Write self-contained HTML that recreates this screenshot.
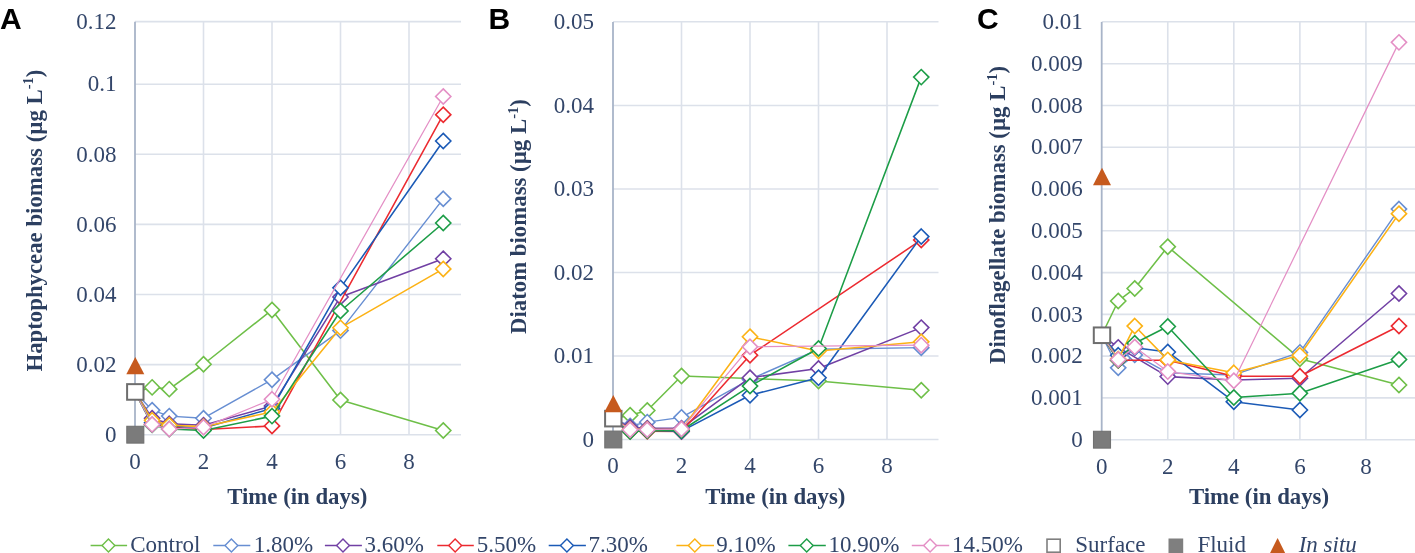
<!DOCTYPE html>
<html><head><meta charset="utf-8"><style>
html,body{margin:0;padding:0;background:#fff;}
body{width:1415px;height:553px;overflow:hidden;}
svg{display:block;will-change:transform;}
.t{font-family:"Liberation Serif",serif;font-size:23px;fill:#33466a;}
.b{font-family:"Liberation Serif",serif;font-size:22.8px;font-weight:bold;fill:#2c3f60;}
.L{font-family:"Liberation Sans",sans-serif;font-size:30px;font-weight:bold;fill:#000;}
</style></head><body>
<svg width="1415" height="553" viewBox="0 0 1415 553">
<line x1="135" y1="434.7" x2="461" y2="434.7" stroke="#dce1ea" stroke-width="1.6"/>
<line x1="135" y1="364.6" x2="461" y2="364.6" stroke="#dce1ea" stroke-width="1.6"/>
<line x1="135" y1="294.5" x2="461" y2="294.5" stroke="#dce1ea" stroke-width="1.6"/>
<line x1="135" y1="224.4" x2="461" y2="224.4" stroke="#dce1ea" stroke-width="1.6"/>
<line x1="135" y1="154.3" x2="461" y2="154.3" stroke="#dce1ea" stroke-width="1.6"/>
<line x1="135" y1="84.2" x2="461" y2="84.2" stroke="#dce1ea" stroke-width="1.6"/>
<line x1="135" y1="21.6" x2="461" y2="21.6" stroke="#dce1ea" stroke-width="1.6"/>
<line x1="203.5" y1="21.6" x2="203.5" y2="434.7" stroke="#dce1ea" stroke-width="1.6"/>
<line x1="272" y1="21.6" x2="272" y2="434.7" stroke="#dce1ea" stroke-width="1.6"/>
<line x1="340.5" y1="21.6" x2="340.5" y2="434.7" stroke="#dce1ea" stroke-width="1.6"/>
<line x1="409" y1="21.6" x2="409" y2="434.7" stroke="#dce1ea" stroke-width="1.6"/>
<line x1="135" y1="21.8" x2="135" y2="434.7" stroke="#a8b4c8" stroke-width="1.8"/>
<text x="116.5" y="441.9" text-anchor="end" class="t">0</text>
<text x="116.5" y="371.8" text-anchor="end" class="t">0.02</text>
<text x="116.5" y="301.7" text-anchor="end" class="t">0.04</text>
<text x="116.5" y="231.6" text-anchor="end" class="t">0.06</text>
<text x="116.5" y="161.5" text-anchor="end" class="t">0.08</text>
<text x="116.5" y="91.4" text-anchor="end" class="t">0.1</text>
<text x="116.5" y="28.8" text-anchor="end" class="t">0.12</text>
<text x="135" y="468.6" text-anchor="middle" class="t">0</text>
<text x="203.5" y="468.6" text-anchor="middle" class="t">2</text>
<text x="272" y="468.6" text-anchor="middle" class="t">4</text>
<text x="340.5" y="468.6" text-anchor="middle" class="t">6</text>
<text x="409" y="468.6" text-anchor="middle" class="t">8</text>
<text x="297.3" y="503.8" text-anchor="middle" class="b">Time (in days)</text>
<text transform="translate(41.7 220.6) rotate(-90)" text-anchor="middle" class="b">Haptophyceae biomass (µg L<tspan font-size="14.5" dy="-8.5">-1</tspan><tspan dy="8.5">)</tspan></text>
<text x="0" y="29" class="L">A</text>
<path d="M135 391.94 L152.12 387.38 L169.25 389.13 L203.5 364.25 L272 309.92 L340.5 400 L443.25 430.49" fill="none" stroke="#6ebf48" stroke-width="1.55" stroke-linejoin="round"/>
<path d="M152.12 379.78L159.72 387.38L152.12 394.98L144.53 387.38Z" fill="#fff" stroke="#6ebf48" stroke-width="1.6" stroke-linejoin="miter"/>
<path d="M169.25 381.53L176.85 389.13L169.25 396.74L161.65 389.13Z" fill="#fff" stroke="#6ebf48" stroke-width="1.6" stroke-linejoin="miter"/>
<path d="M203.5 356.65L211.1 364.25L203.5 371.85L195.9 364.25Z" fill="#fff" stroke="#6ebf48" stroke-width="1.6" stroke-linejoin="miter"/>
<path d="M272 302.32L279.6 309.92L272 317.52L264.4 309.92Z" fill="#fff" stroke="#6ebf48" stroke-width="1.6" stroke-linejoin="miter"/>
<path d="M340.5 392.4L348.1 400L340.5 407.6L332.9 400Z" fill="#fff" stroke="#6ebf48" stroke-width="1.6" stroke-linejoin="miter"/>
<path d="M443.25 422.89L450.85 430.49L443.25 438.09L435.65 430.49Z" fill="#fff" stroke="#6ebf48" stroke-width="1.6" stroke-linejoin="miter"/>
<path d="M135 391.94 L152.12 410.16 L169.25 416.12 L203.5 418.23 L272 379.67 L340.5 330.6 L443.25 198.81" fill="none" stroke="#678ed2" stroke-width="1.4" stroke-linejoin="round"/>
<path d="M152.12 402.56L159.72 410.16L152.12 417.76L144.53 410.16Z" fill="#fff" stroke="#678ed2" stroke-width="1.6" stroke-linejoin="miter"/>
<path d="M169.25 408.52L176.85 416.12L169.25 423.72L161.65 416.12Z" fill="#fff" stroke="#678ed2" stroke-width="1.6" stroke-linejoin="miter"/>
<path d="M203.5 410.63L211.1 418.23L203.5 425.83L195.9 418.23Z" fill="#fff" stroke="#678ed2" stroke-width="1.6" stroke-linejoin="miter"/>
<path d="M272 372.07L279.6 379.67L272 387.27L264.4 379.67Z" fill="#fff" stroke="#678ed2" stroke-width="1.6" stroke-linejoin="miter"/>
<path d="M340.5 323L348.1 330.6L340.5 338.2L332.9 330.6Z" fill="#fff" stroke="#678ed2" stroke-width="1.6" stroke-linejoin="miter"/>
<path d="M443.25 191.21L450.85 198.81L443.25 206.41L435.65 198.81Z" fill="#fff" stroke="#678ed2" stroke-width="1.6" stroke-linejoin="miter"/>
<path d="M135 391.94 L152.12 418.23 L169.25 423.83 L203.5 425.24 L272 405.96 L340.5 296.95 L443.25 258.75" fill="none" stroke="#7140a4" stroke-width="1.55" stroke-linejoin="round"/>
<path d="M152.12 410.63L159.72 418.23L152.12 425.83L144.53 418.23Z" fill="#fff" stroke="#7140a4" stroke-width="1.6" stroke-linejoin="miter"/>
<path d="M169.25 416.23L176.85 423.83L169.25 431.43L161.65 423.83Z" fill="#fff" stroke="#7140a4" stroke-width="1.6" stroke-linejoin="miter"/>
<path d="M203.5 417.64L211.1 425.24L203.5 432.84L195.9 425.24Z" fill="#fff" stroke="#7140a4" stroke-width="1.6" stroke-linejoin="miter"/>
<path d="M272 398.36L279.6 405.96L272 413.56L264.4 405.96Z" fill="#fff" stroke="#7140a4" stroke-width="1.6" stroke-linejoin="miter"/>
<path d="M340.5 289.35L348.1 296.95L340.5 304.55L332.9 296.95Z" fill="#fff" stroke="#7140a4" stroke-width="1.6" stroke-linejoin="miter"/>
<path d="M443.25 251.15L450.85 258.75L443.25 266.35L435.65 258.75Z" fill="#fff" stroke="#7140a4" stroke-width="1.6" stroke-linejoin="miter"/>
<path d="M135 391.94 L152.12 424.19 L169.25 426.99 L203.5 429.44 L272 425.94 L443.25 114.69" fill="none" stroke="#ec2a30" stroke-width="1.55" stroke-linejoin="round"/>
<path d="M152.12 416.58L159.72 424.19L152.12 431.79L144.53 424.19Z" fill="#fff" stroke="#ec2a30" stroke-width="1.6" stroke-linejoin="miter"/>
<path d="M169.25 419.39L176.85 426.99L169.25 434.59L161.65 426.99Z" fill="#fff" stroke="#ec2a30" stroke-width="1.6" stroke-linejoin="miter"/>
<path d="M203.5 421.84L211.1 429.44L203.5 437.04L195.9 429.44Z" fill="#fff" stroke="#ec2a30" stroke-width="1.6" stroke-linejoin="miter"/>
<path d="M272 418.34L279.6 425.94L272 433.54L264.4 425.94Z" fill="#fff" stroke="#ec2a30" stroke-width="1.6" stroke-linejoin="miter"/>
<path d="M443.25 107.09L450.85 114.69L443.25 122.29L435.65 114.69Z" fill="#fff" stroke="#ec2a30" stroke-width="1.6" stroke-linejoin="miter"/>
<path d="M135 391.94 L152.12 422.78 L169.25 425.94 L203.5 428.04 L272 408.41 L340.5 287.84 L443.25 140.98" fill="none" stroke="#1b5ab6" stroke-width="1.55" stroke-linejoin="round"/>
<path d="M152.12 415.18L159.72 422.78L152.12 430.38L144.53 422.78Z" fill="#fff" stroke="#1b5ab6" stroke-width="1.6" stroke-linejoin="miter"/>
<path d="M169.25 418.34L176.85 425.94L169.25 433.54L161.65 425.94Z" fill="#fff" stroke="#1b5ab6" stroke-width="1.6" stroke-linejoin="miter"/>
<path d="M203.5 420.44L211.1 428.04L203.5 435.64L195.9 428.04Z" fill="#fff" stroke="#1b5ab6" stroke-width="1.6" stroke-linejoin="miter"/>
<path d="M272 400.81L279.6 408.41L272 416.01L264.4 408.41Z" fill="#fff" stroke="#1b5ab6" stroke-width="1.6" stroke-linejoin="miter"/>
<path d="M340.5 280.24L348.1 287.84L340.5 295.44L332.9 287.84Z" fill="#fff" stroke="#1b5ab6" stroke-width="1.6" stroke-linejoin="miter"/>
<path d="M443.25 133.38L450.85 140.98L443.25 148.58L435.65 140.98Z" fill="#fff" stroke="#1b5ab6" stroke-width="1.6" stroke-linejoin="miter"/>
<path d="M135 391.94 L152.12 420.33 L169.25 425.24 L203.5 426.64 L272 411.92 L340.5 327.8 L443.25 268.91" fill="none" stroke="#fcb215" stroke-width="1.55" stroke-linejoin="round"/>
<path d="M152.12 412.73L159.72 420.33L152.12 427.93L144.53 420.33Z" fill="#fff" stroke="#fcb215" stroke-width="1.6" stroke-linejoin="miter"/>
<path d="M169.25 417.64L176.85 425.24L169.25 432.84L161.65 425.24Z" fill="#fff" stroke="#fcb215" stroke-width="1.6" stroke-linejoin="miter"/>
<path d="M203.5 419.04L211.1 426.64L203.5 434.24L195.9 426.64Z" fill="#fff" stroke="#fcb215" stroke-width="1.6" stroke-linejoin="miter"/>
<path d="M272 404.32L279.6 411.92L272 419.52L264.4 411.92Z" fill="#fff" stroke="#fcb215" stroke-width="1.6" stroke-linejoin="miter"/>
<path d="M340.5 320.2L348.1 327.8L340.5 335.4L332.9 327.8Z" fill="#fff" stroke="#fcb215" stroke-width="1.6" stroke-linejoin="miter"/>
<path d="M443.25 261.31L450.85 268.91L443.25 276.51L435.65 268.91Z" fill="#fff" stroke="#fcb215" stroke-width="1.6" stroke-linejoin="miter"/>
<path d="M135 391.94 L152.12 424.89 L169.25 429.09 L203.5 430.49 L272 416.12 L340.5 310.97 L443.25 223" fill="none" stroke="#1c9d47" stroke-width="1.55" stroke-linejoin="round"/>
<path d="M152.12 417.29L159.72 424.89L152.12 432.49L144.53 424.89Z" fill="#fff" stroke="#1c9d47" stroke-width="1.6" stroke-linejoin="miter"/>
<path d="M169.25 421.49L176.85 429.09L169.25 436.69L161.65 429.09Z" fill="#fff" stroke="#1c9d47" stroke-width="1.6" stroke-linejoin="miter"/>
<path d="M203.5 422.89L211.1 430.49L203.5 438.09L195.9 430.49Z" fill="#fff" stroke="#1c9d47" stroke-width="1.6" stroke-linejoin="miter"/>
<path d="M272 408.52L279.6 416.12L272 423.72L264.4 416.12Z" fill="#fff" stroke="#1c9d47" stroke-width="1.6" stroke-linejoin="miter"/>
<path d="M340.5 303.37L348.1 310.97L340.5 318.57L332.9 310.97Z" fill="#fff" stroke="#1c9d47" stroke-width="1.6" stroke-linejoin="miter"/>
<path d="M443.25 215.4L450.85 223L443.25 230.6L435.65 223Z" fill="#fff" stroke="#1c9d47" stroke-width="1.6" stroke-linejoin="miter"/>
<path d="M135 391.94 L152.12 424.54 L169.25 429.09 L203.5 427.34 L272 399.3 L443.25 96.47" fill="none" stroke="#e48fc5" stroke-width="1.25" stroke-linejoin="round"/>
<path d="M152.12 416.94L159.72 424.54L152.12 432.14L144.53 424.54Z" fill="#fff" stroke="#e48fc5" stroke-width="1.6" stroke-linejoin="miter"/>
<path d="M169.25 421.49L176.85 429.09L169.25 436.69L161.65 429.09Z" fill="#fff" stroke="#e48fc5" stroke-width="1.6" stroke-linejoin="miter"/>
<path d="M203.5 419.74L211.1 427.34L203.5 434.94L195.9 427.34Z" fill="#fff" stroke="#e48fc5" stroke-width="1.6" stroke-linejoin="miter"/>
<path d="M272 391.7L279.6 399.3L272 406.9L264.4 399.3Z" fill="#fff" stroke="#e48fc5" stroke-width="1.6" stroke-linejoin="miter"/>
<path d="M443.25 88.87L450.85 96.47L443.25 104.07L435.65 96.47Z" fill="#fff" stroke="#e48fc5" stroke-width="1.6" stroke-linejoin="miter"/>
<rect x="127.1" y="384.14" width="16.4" height="15.6" fill="#fff" stroke="#6e6e6e" stroke-width="2"/>
<rect x="126.8" y="426.3" width="17" height="16.8" fill="#7b7b7b" stroke="#717171" stroke-width="1.1"/>
<path d="M135.3 356.95L144.3 374.35L126.3 374.35Z" fill="#c65a1e"/>
<line x1="613" y1="439.5" x2="938.5" y2="439.5" stroke="#dce1ea" stroke-width="1.6"/>
<line x1="613" y1="356" x2="938.5" y2="356" stroke="#dce1ea" stroke-width="1.6"/>
<line x1="613" y1="272.5" x2="938.5" y2="272.5" stroke="#dce1ea" stroke-width="1.6"/>
<line x1="613" y1="189" x2="938.5" y2="189" stroke="#dce1ea" stroke-width="1.6"/>
<line x1="613" y1="105.5" x2="938.5" y2="105.5" stroke="#dce1ea" stroke-width="1.6"/>
<line x1="613" y1="21.8" x2="938.5" y2="21.8" stroke="#dce1ea" stroke-width="1.6"/>
<line x1="681.5" y1="21.8" x2="681.5" y2="439.5" stroke="#dce1ea" stroke-width="1.6"/>
<line x1="750" y1="21.8" x2="750" y2="439.5" stroke="#dce1ea" stroke-width="1.6"/>
<line x1="818.5" y1="21.8" x2="818.5" y2="439.5" stroke="#dce1ea" stroke-width="1.6"/>
<line x1="887" y1="21.8" x2="887" y2="439.5" stroke="#dce1ea" stroke-width="1.6"/>
<line x1="613" y1="22" x2="613" y2="439.5" stroke="#a8b4c8" stroke-width="1.8"/>
<text x="594" y="446.7" text-anchor="end" class="t">0</text>
<text x="594" y="363.2" text-anchor="end" class="t">0.01</text>
<text x="594" y="279.7" text-anchor="end" class="t">0.02</text>
<text x="594" y="196.2" text-anchor="end" class="t">0.03</text>
<text x="594" y="112.7" text-anchor="end" class="t">0.04</text>
<text x="594" y="29" text-anchor="end" class="t">0.05</text>
<text x="613" y="473.4" text-anchor="middle" class="t">0</text>
<text x="681.5" y="473.4" text-anchor="middle" class="t">2</text>
<text x="750" y="473.4" text-anchor="middle" class="t">4</text>
<text x="818.5" y="473.4" text-anchor="middle" class="t">6</text>
<text x="887" y="473.4" text-anchor="middle" class="t">8</text>
<text x="775.3" y="504.3" text-anchor="middle" class="b">Time (in days)</text>
<text transform="translate(526 216.6) rotate(-90)" text-anchor="middle" class="b">Diatom biomass (µg L<tspan font-size="14.5" dy="-8.5">-1</tspan><tspan dy="8.5">)</tspan></text>
<text x="488.5" y="29" class="L">B</text>
<path d="M613 418.62 L630.12 415.29 L647.25 410.53 L681.5 376.04 L750 378.55 L818.5 381.05 L921.25 390.24" fill="none" stroke="#6ebf48" stroke-width="1.55" stroke-linejoin="round"/>
<path d="M630.12 407.69L637.73 415.29L630.12 422.89L622.52 415.29Z" fill="#fff" stroke="#6ebf48" stroke-width="1.6" stroke-linejoin="miter"/>
<path d="M647.25 402.93L654.85 410.53L647.25 418.13L639.65 410.53Z" fill="#fff" stroke="#6ebf48" stroke-width="1.6" stroke-linejoin="miter"/>
<path d="M681.5 368.44L689.1 376.04L681.5 383.64L673.9 376.04Z" fill="#fff" stroke="#6ebf48" stroke-width="1.6" stroke-linejoin="miter"/>
<path d="M750 370.94L757.6 378.55L750 386.15L742.4 378.55Z" fill="#fff" stroke="#6ebf48" stroke-width="1.6" stroke-linejoin="miter"/>
<path d="M818.5 373.45L826.1 381.05L818.5 388.65L810.9 381.05Z" fill="#fff" stroke="#6ebf48" stroke-width="1.6" stroke-linejoin="miter"/>
<path d="M921.25 382.63L928.85 390.24L921.25 397.84L913.65 390.24Z" fill="#fff" stroke="#6ebf48" stroke-width="1.6" stroke-linejoin="miter"/>
<path d="M613 418.62 L630.12 425.97 L647.25 422.13 L681.5 417.37 L750 379.38 L818.5 349.32 L921.25 347.65" fill="none" stroke="#678ed2" stroke-width="1.4" stroke-linejoin="round"/>
<path d="M630.12 418.37L637.73 425.97L630.12 433.57L622.52 425.97Z" fill="#fff" stroke="#678ed2" stroke-width="1.6" stroke-linejoin="miter"/>
<path d="M647.25 414.53L654.85 422.13L647.25 429.73L639.65 422.13Z" fill="#fff" stroke="#678ed2" stroke-width="1.6" stroke-linejoin="miter"/>
<path d="M681.5 409.77L689.1 417.37L681.5 424.97L673.9 417.37Z" fill="#fff" stroke="#678ed2" stroke-width="1.6" stroke-linejoin="miter"/>
<path d="M750 371.78L757.6 379.38L750 386.98L742.4 379.38Z" fill="#fff" stroke="#678ed2" stroke-width="1.6" stroke-linejoin="miter"/>
<path d="M818.5 341.72L826.1 349.32L818.5 356.92L810.9 349.32Z" fill="#fff" stroke="#678ed2" stroke-width="1.6" stroke-linejoin="miter"/>
<path d="M921.25 340.05L928.85 347.65L921.25 355.25L913.65 347.65Z" fill="#fff" stroke="#678ed2" stroke-width="1.6" stroke-linejoin="miter"/>
<path d="M613 418.62 L630.12 427.48 L647.25 428.23 L681.5 428.23 L750 377.71 L818.5 368.52 L921.25 327.61" fill="none" stroke="#7140a4" stroke-width="1.55" stroke-linejoin="round"/>
<path d="M630.12 419.88L637.73 427.48L630.12 435.08L622.52 427.48Z" fill="#fff" stroke="#7140a4" stroke-width="1.6" stroke-linejoin="miter"/>
<path d="M647.25 420.63L654.85 428.23L647.25 435.83L639.65 428.23Z" fill="#fff" stroke="#7140a4" stroke-width="1.6" stroke-linejoin="miter"/>
<path d="M681.5 420.63L689.1 428.23L681.5 435.83L673.9 428.23Z" fill="#fff" stroke="#7140a4" stroke-width="1.6" stroke-linejoin="miter"/>
<path d="M750 370.11L757.6 377.71L750 385.31L742.4 377.71Z" fill="#fff" stroke="#7140a4" stroke-width="1.6" stroke-linejoin="miter"/>
<path d="M818.5 360.92L826.1 368.52L818.5 376.12L810.9 368.52Z" fill="#fff" stroke="#7140a4" stroke-width="1.6" stroke-linejoin="miter"/>
<path d="M921.25 320.01L928.85 327.61L921.25 335.21L913.65 327.61Z" fill="#fff" stroke="#7140a4" stroke-width="1.6" stroke-linejoin="miter"/>
<path d="M613 418.62 L630.12 431.15 L647.25 431.15 L681.5 431.57 L750 355.17 L921.25 239.94" fill="none" stroke="#ec2a30" stroke-width="1.55" stroke-linejoin="round"/>
<path d="M630.12 423.55L637.73 431.15L630.12 438.75L622.52 431.15Z" fill="#fff" stroke="#ec2a30" stroke-width="1.6" stroke-linejoin="miter"/>
<path d="M647.25 423.55L654.85 431.15L647.25 438.75L639.65 431.15Z" fill="#fff" stroke="#ec2a30" stroke-width="1.6" stroke-linejoin="miter"/>
<path d="M681.5 423.97L689.1 431.57L681.5 439.17L673.9 431.57Z" fill="#fff" stroke="#ec2a30" stroke-width="1.6" stroke-linejoin="miter"/>
<path d="M750 347.56L757.6 355.17L750 362.77L742.4 355.17Z" fill="#fff" stroke="#ec2a30" stroke-width="1.6" stroke-linejoin="miter"/>
<path d="M921.25 232.34L928.85 239.94L921.25 247.53L913.65 239.94Z" fill="#fff" stroke="#ec2a30" stroke-width="1.6" stroke-linejoin="miter"/>
<path d="M613 418.62 L630.12 430.31 L647.25 430.31 L681.5 431.15 L750 395.25 L818.5 377.71 L921.25 236.59" fill="none" stroke="#1b5ab6" stroke-width="1.55" stroke-linejoin="round"/>
<path d="M630.12 422.71L637.73 430.31L630.12 437.92L622.52 430.31Z" fill="#fff" stroke="#1b5ab6" stroke-width="1.6" stroke-linejoin="miter"/>
<path d="M647.25 422.71L654.85 430.31L647.25 437.92L639.65 430.31Z" fill="#fff" stroke="#1b5ab6" stroke-width="1.6" stroke-linejoin="miter"/>
<path d="M681.5 423.55L689.1 431.15L681.5 438.75L673.9 431.15Z" fill="#fff" stroke="#1b5ab6" stroke-width="1.6" stroke-linejoin="miter"/>
<path d="M750 387.64L757.6 395.25L750 402.85L742.4 395.25Z" fill="#fff" stroke="#1b5ab6" stroke-width="1.6" stroke-linejoin="miter"/>
<path d="M818.5 370.11L826.1 377.71L818.5 385.31L810.9 377.71Z" fill="#fff" stroke="#1b5ab6" stroke-width="1.6" stroke-linejoin="miter"/>
<path d="M921.25 229L928.85 236.59L921.25 244.19L913.65 236.59Z" fill="#fff" stroke="#1b5ab6" stroke-width="1.6" stroke-linejoin="miter"/>
<path d="M613 418.62 L630.12 429.48 L647.25 429.48 L681.5 429.48 L750 336.8 L818.5 350.99 L921.25 341.81" fill="none" stroke="#fcb215" stroke-width="1.55" stroke-linejoin="round"/>
<path d="M630.12 421.88L637.73 429.48L630.12 437.08L622.52 429.48Z" fill="#fff" stroke="#fcb215" stroke-width="1.6" stroke-linejoin="miter"/>
<path d="M647.25 421.88L654.85 429.48L647.25 437.08L639.65 429.48Z" fill="#fff" stroke="#fcb215" stroke-width="1.6" stroke-linejoin="miter"/>
<path d="M681.5 421.88L689.1 429.48L681.5 437.08L673.9 429.48Z" fill="#fff" stroke="#fcb215" stroke-width="1.6" stroke-linejoin="miter"/>
<path d="M750 329.19L757.6 336.8L750 344.4L742.4 336.8Z" fill="#fff" stroke="#fcb215" stroke-width="1.6" stroke-linejoin="miter"/>
<path d="M818.5 343.39L826.1 350.99L818.5 358.59L810.9 350.99Z" fill="#fff" stroke="#fcb215" stroke-width="1.6" stroke-linejoin="miter"/>
<path d="M921.25 334.2L928.85 341.81L921.25 349.41L913.65 341.81Z" fill="#fff" stroke="#fcb215" stroke-width="1.6" stroke-linejoin="miter"/>
<path d="M613 418.62 L630.12 431.48 L647.25 430.73 L681.5 430.48 L750 386.06 L818.5 348.49 L921.25 77.11" fill="none" stroke="#1c9d47" stroke-width="1.55" stroke-linejoin="round"/>
<path d="M630.12 423.88L637.73 431.48L630.12 439.08L622.52 431.48Z" fill="#fff" stroke="#1c9d47" stroke-width="1.6" stroke-linejoin="miter"/>
<path d="M647.25 423.13L654.85 430.73L647.25 438.33L639.65 430.73Z" fill="#fff" stroke="#1c9d47" stroke-width="1.6" stroke-linejoin="miter"/>
<path d="M681.5 422.88L689.1 430.48L681.5 438.08L673.9 430.48Z" fill="#fff" stroke="#1c9d47" stroke-width="1.6" stroke-linejoin="miter"/>
<path d="M750 378.46L757.6 386.06L750 393.66L742.4 386.06Z" fill="#fff" stroke="#1c9d47" stroke-width="1.6" stroke-linejoin="miter"/>
<path d="M818.5 340.88L826.1 348.49L818.5 356.09L810.9 348.49Z" fill="#fff" stroke="#1c9d47" stroke-width="1.6" stroke-linejoin="miter"/>
<path d="M921.25 69.51L928.85 77.11L921.25 84.71L913.65 77.11Z" fill="#fff" stroke="#1c9d47" stroke-width="1.6" stroke-linejoin="miter"/>
<path d="M613 418.62 L630.12 429.73 L647.25 429.73 L681.5 429.06 L750 346.81 L921.25 345.14" fill="none" stroke="#e48fc5" stroke-width="1.25" stroke-linejoin="round"/>
<path d="M630.12 422.13L637.73 429.73L630.12 437.33L622.52 429.73Z" fill="#fff" stroke="#e48fc5" stroke-width="1.6" stroke-linejoin="miter"/>
<path d="M647.25 422.13L654.85 429.73L647.25 437.33L639.65 429.73Z" fill="#fff" stroke="#e48fc5" stroke-width="1.6" stroke-linejoin="miter"/>
<path d="M681.5 421.46L689.1 429.06L681.5 436.66L673.9 429.06Z" fill="#fff" stroke="#e48fc5" stroke-width="1.6" stroke-linejoin="miter"/>
<path d="M750 339.21L757.6 346.81L750 354.42L742.4 346.81Z" fill="#fff" stroke="#e48fc5" stroke-width="1.6" stroke-linejoin="miter"/>
<path d="M921.25 337.54L928.85 345.14L921.25 352.75L913.65 345.14Z" fill="#fff" stroke="#e48fc5" stroke-width="1.6" stroke-linejoin="miter"/>
<rect x="605.1" y="410.82" width="16.4" height="15.6" fill="#fff" stroke="#6e6e6e" stroke-width="2"/>
<rect x="604.8" y="431.1" width="17" height="16.8" fill="#7b7b7b" stroke="#717171" stroke-width="1.1"/>
<path d="M613.3 394.9L622.3 412.3L604.3 412.3Z" fill="#c65a1e"/>
<line x1="1101.7" y1="439.7" x2="1415" y2="439.7" stroke="#dce1ea" stroke-width="1.6"/>
<line x1="1101.7" y1="397.92" x2="1415" y2="397.92" stroke="#dce1ea" stroke-width="1.6"/>
<line x1="1101.7" y1="356.14" x2="1415" y2="356.14" stroke="#dce1ea" stroke-width="1.6"/>
<line x1="1101.7" y1="314.36" x2="1415" y2="314.36" stroke="#dce1ea" stroke-width="1.6"/>
<line x1="1101.7" y1="272.58" x2="1415" y2="272.58" stroke="#dce1ea" stroke-width="1.6"/>
<line x1="1101.7" y1="230.8" x2="1415" y2="230.8" stroke="#dce1ea" stroke-width="1.6"/>
<line x1="1101.7" y1="189.02" x2="1415" y2="189.02" stroke="#dce1ea" stroke-width="1.6"/>
<line x1="1101.7" y1="147.24" x2="1415" y2="147.24" stroke="#dce1ea" stroke-width="1.6"/>
<line x1="1101.7" y1="105.46" x2="1415" y2="105.46" stroke="#dce1ea" stroke-width="1.6"/>
<line x1="1101.7" y1="63.68" x2="1415" y2="63.68" stroke="#dce1ea" stroke-width="1.6"/>
<line x1="1101.7" y1="21.8" x2="1415" y2="21.8" stroke="#dce1ea" stroke-width="1.6"/>
<line x1="1167.76" y1="21.8" x2="1167.76" y2="439.7" stroke="#dce1ea" stroke-width="1.6"/>
<line x1="1233.82" y1="21.8" x2="1233.82" y2="439.7" stroke="#dce1ea" stroke-width="1.6"/>
<line x1="1299.88" y1="21.8" x2="1299.88" y2="439.7" stroke="#dce1ea" stroke-width="1.6"/>
<line x1="1365.94" y1="21.8" x2="1365.94" y2="439.7" stroke="#dce1ea" stroke-width="1.6"/>
<line x1="1101.7" y1="22" x2="1101.7" y2="439.7" stroke="#a8b4c8" stroke-width="1.8"/>
<text x="1082.7" y="446.9" text-anchor="end" class="t">0</text>
<text x="1082.7" y="405.12" text-anchor="end" class="t">0.001</text>
<text x="1082.7" y="363.34" text-anchor="end" class="t">0.002</text>
<text x="1082.7" y="321.56" text-anchor="end" class="t">0.003</text>
<text x="1082.7" y="279.78" text-anchor="end" class="t">0.004</text>
<text x="1082.7" y="238" text-anchor="end" class="t">0.005</text>
<text x="1082.7" y="196.22" text-anchor="end" class="t">0.006</text>
<text x="1082.7" y="154.44" text-anchor="end" class="t">0.007</text>
<text x="1082.7" y="112.66" text-anchor="end" class="t">0.008</text>
<text x="1082.7" y="70.88" text-anchor="end" class="t">0.009</text>
<text x="1082.7" y="29" text-anchor="end" class="t">0.01</text>
<text x="1101.7" y="473.8" text-anchor="middle" class="t">0</text>
<text x="1167.76" y="473.8" text-anchor="middle" class="t">2</text>
<text x="1233.82" y="473.8" text-anchor="middle" class="t">4</text>
<text x="1299.88" y="473.8" text-anchor="middle" class="t">6</text>
<text x="1365.94" y="473.8" text-anchor="middle" class="t">8</text>
<text x="1259" y="504.3" text-anchor="middle" class="b">Time (in days)</text>
<text transform="translate(1005.3 215) rotate(-90)" text-anchor="middle" class="b">Dinoflagellate biomass (µg L<tspan font-size="14.5" dy="-8.5">-1</tspan><tspan dy="8.5">)</tspan></text>
<text x="977" y="29" class="L">C</text>
<path d="M1101.7 335.25 L1118.22 300.99 L1134.73 288.46 L1167.76 246.68 L1299.88 358.65 L1398.97 384.97" fill="none" stroke="#6ebf48" stroke-width="1.55" stroke-linejoin="round"/>
<path d="M1118.22 293.39L1125.82 300.99L1118.22 308.59L1110.62 300.99Z" fill="#fff" stroke="#6ebf48" stroke-width="1.6" stroke-linejoin="miter"/>
<path d="M1134.73 280.86L1142.33 288.46L1134.73 296.06L1127.13 288.46Z" fill="#fff" stroke="#6ebf48" stroke-width="1.6" stroke-linejoin="miter"/>
<path d="M1167.76 239.08L1175.36 246.68L1167.76 254.28L1160.16 246.68Z" fill="#fff" stroke="#6ebf48" stroke-width="1.6" stroke-linejoin="miter"/>
<path d="M1299.88 351.05L1307.48 358.65L1299.88 366.25L1292.28 358.65Z" fill="#fff" stroke="#6ebf48" stroke-width="1.6" stroke-linejoin="miter"/>
<path d="M1398.97 377.37L1406.57 384.97L1398.97 392.57L1391.37 384.97Z" fill="#fff" stroke="#6ebf48" stroke-width="1.6" stroke-linejoin="miter"/>
<path d="M1101.7 335.25 L1118.22 367.84 L1134.73 354.89 L1167.76 372.85 L1233.82 374.94 L1299.88 352.38 L1398.97 209.07" fill="none" stroke="#678ed2" stroke-width="1.4" stroke-linejoin="round"/>
<path d="M1118.22 360.24L1125.82 367.84L1118.22 375.44L1110.62 367.84Z" fill="#fff" stroke="#678ed2" stroke-width="1.6" stroke-linejoin="miter"/>
<path d="M1134.73 347.29L1142.33 354.89L1134.73 362.49L1127.13 354.89Z" fill="#fff" stroke="#678ed2" stroke-width="1.6" stroke-linejoin="miter"/>
<path d="M1167.76 365.25L1175.36 372.85L1167.76 380.45L1160.16 372.85Z" fill="#fff" stroke="#678ed2" stroke-width="1.6" stroke-linejoin="miter"/>
<path d="M1233.82 367.34L1241.42 374.94L1233.82 382.54L1226.22 374.94Z" fill="#fff" stroke="#678ed2" stroke-width="1.6" stroke-linejoin="miter"/>
<path d="M1299.88 344.78L1307.48 352.38L1299.88 359.98L1292.28 352.38Z" fill="#fff" stroke="#678ed2" stroke-width="1.6" stroke-linejoin="miter"/>
<path d="M1398.97 201.47L1406.57 209.07L1398.97 216.67L1391.37 209.07Z" fill="#fff" stroke="#678ed2" stroke-width="1.6" stroke-linejoin="miter"/>
<path d="M1101.7 335.25 L1118.22 347.37 L1167.76 376.61 L1233.82 379.95 L1299.88 378.28 L1398.97 293.47" fill="none" stroke="#7140a4" stroke-width="1.55" stroke-linejoin="round"/>
<path d="M1118.22 339.77L1125.82 347.37L1118.22 354.97L1110.62 347.37Z" fill="#fff" stroke="#7140a4" stroke-width="1.6" stroke-linejoin="miter"/>
<path d="M1167.76 369.01L1175.36 376.61L1167.76 384.21L1160.16 376.61Z" fill="#fff" stroke="#7140a4" stroke-width="1.6" stroke-linejoin="miter"/>
<path d="M1233.82 372.35L1241.42 379.95L1233.82 387.55L1226.22 379.95Z" fill="#fff" stroke="#7140a4" stroke-width="1.6" stroke-linejoin="miter"/>
<path d="M1299.88 370.68L1307.48 378.28L1299.88 385.88L1292.28 378.28Z" fill="#fff" stroke="#7140a4" stroke-width="1.6" stroke-linejoin="miter"/>
<path d="M1398.97 285.87L1406.57 293.47L1398.97 301.07L1391.37 293.47Z" fill="#fff" stroke="#7140a4" stroke-width="1.6" stroke-linejoin="miter"/>
<path d="M1101.7 335.25 L1118.22 360.32 L1167.76 360.32 L1233.82 376.19 L1299.88 376.19 L1398.97 326.06" fill="none" stroke="#ec2a30" stroke-width="1.55" stroke-linejoin="round"/>
<path d="M1118.22 352.72L1125.82 360.32L1118.22 367.92L1110.62 360.32Z" fill="#fff" stroke="#ec2a30" stroke-width="1.6" stroke-linejoin="miter"/>
<path d="M1167.76 352.72L1175.36 360.32L1167.76 367.92L1160.16 360.32Z" fill="#fff" stroke="#ec2a30" stroke-width="1.6" stroke-linejoin="miter"/>
<path d="M1233.82 368.59L1241.42 376.19L1233.82 383.79L1226.22 376.19Z" fill="#fff" stroke="#ec2a30" stroke-width="1.6" stroke-linejoin="miter"/>
<path d="M1299.88 368.59L1307.48 376.19L1299.88 383.79L1292.28 376.19Z" fill="#fff" stroke="#ec2a30" stroke-width="1.6" stroke-linejoin="miter"/>
<path d="M1398.97 318.46L1406.57 326.06L1398.97 333.66L1391.37 326.06Z" fill="#fff" stroke="#ec2a30" stroke-width="1.6" stroke-linejoin="miter"/>
<path d="M1101.7 335.25 L1118.22 355.3 L1134.73 347.78 L1167.76 351.96 L1233.82 401.68 L1299.88 410.04" fill="none" stroke="#1b5ab6" stroke-width="1.55" stroke-linejoin="round"/>
<path d="M1118.22 347.7L1125.82 355.3L1118.22 362.9L1110.62 355.3Z" fill="#fff" stroke="#1b5ab6" stroke-width="1.6" stroke-linejoin="miter"/>
<path d="M1134.73 340.18L1142.33 347.78L1134.73 355.38L1127.13 347.78Z" fill="#fff" stroke="#1b5ab6" stroke-width="1.6" stroke-linejoin="miter"/>
<path d="M1167.76 344.36L1175.36 351.96L1167.76 359.56L1160.16 351.96Z" fill="#fff" stroke="#1b5ab6" stroke-width="1.6" stroke-linejoin="miter"/>
<path d="M1233.82 394.08L1241.42 401.68L1233.82 409.28L1226.22 401.68Z" fill="#fff" stroke="#1b5ab6" stroke-width="1.6" stroke-linejoin="miter"/>
<path d="M1299.88 402.44L1307.48 410.04L1299.88 417.64L1292.28 410.04Z" fill="#fff" stroke="#1b5ab6" stroke-width="1.6" stroke-linejoin="miter"/>
<path d="M1101.7 335.25 L1118.22 359.06 L1134.73 326.06 L1167.76 359.9 L1233.82 372.85 L1299.88 355.3 L1398.97 213.67" fill="none" stroke="#fcb215" stroke-width="1.55" stroke-linejoin="round"/>
<path d="M1118.22 351.46L1125.82 359.06L1118.22 366.66L1110.62 359.06Z" fill="#fff" stroke="#fcb215" stroke-width="1.6" stroke-linejoin="miter"/>
<path d="M1134.73 318.46L1142.33 326.06L1134.73 333.66L1127.13 326.06Z" fill="#fff" stroke="#fcb215" stroke-width="1.6" stroke-linejoin="miter"/>
<path d="M1167.76 352.3L1175.36 359.9L1167.76 367.5L1160.16 359.9Z" fill="#fff" stroke="#fcb215" stroke-width="1.6" stroke-linejoin="miter"/>
<path d="M1233.82 365.25L1241.42 372.85L1233.82 380.45L1226.22 372.85Z" fill="#fff" stroke="#fcb215" stroke-width="1.6" stroke-linejoin="miter"/>
<path d="M1299.88 347.7L1307.48 355.3L1299.88 362.9L1292.28 355.3Z" fill="#fff" stroke="#fcb215" stroke-width="1.6" stroke-linejoin="miter"/>
<path d="M1398.97 206.07L1406.57 213.67L1398.97 221.27L1391.37 213.67Z" fill="#fff" stroke="#fcb215" stroke-width="1.6" stroke-linejoin="miter"/>
<path d="M1101.7 335.25 L1118.22 360.32 L1134.73 343.19 L1167.76 326.48 L1233.82 397.5 L1299.88 393.32 L1398.97 359.48" fill="none" stroke="#1c9d47" stroke-width="1.55" stroke-linejoin="round"/>
<path d="M1118.22 352.72L1125.82 360.32L1118.22 367.92L1110.62 360.32Z" fill="#fff" stroke="#1c9d47" stroke-width="1.6" stroke-linejoin="miter"/>
<path d="M1134.73 335.59L1142.33 343.19L1134.73 350.79L1127.13 343.19Z" fill="#fff" stroke="#1c9d47" stroke-width="1.6" stroke-linejoin="miter"/>
<path d="M1167.76 318.88L1175.36 326.48L1167.76 334.08L1160.16 326.48Z" fill="#fff" stroke="#1c9d47" stroke-width="1.6" stroke-linejoin="miter"/>
<path d="M1233.82 389.9L1241.42 397.5L1233.82 405.1L1226.22 397.5Z" fill="#fff" stroke="#1c9d47" stroke-width="1.6" stroke-linejoin="miter"/>
<path d="M1299.88 385.72L1307.48 393.32L1299.88 400.92L1292.28 393.32Z" fill="#fff" stroke="#1c9d47" stroke-width="1.6" stroke-linejoin="miter"/>
<path d="M1398.97 351.88L1406.57 359.48L1398.97 367.08L1391.37 359.48Z" fill="#fff" stroke="#1c9d47" stroke-width="1.6" stroke-linejoin="miter"/>
<path d="M1101.7 335.25 L1118.22 359.48 L1134.73 346.95 L1167.76 371.6 L1233.82 380.79 L1398.97 42.37" fill="none" stroke="#e48fc5" stroke-width="1.25" stroke-linejoin="round"/>
<path d="M1118.22 351.88L1125.82 359.48L1118.22 367.08L1110.62 359.48Z" fill="#fff" stroke="#e48fc5" stroke-width="1.6" stroke-linejoin="miter"/>
<path d="M1134.73 339.35L1142.33 346.95L1134.73 354.55L1127.13 346.95Z" fill="#fff" stroke="#e48fc5" stroke-width="1.6" stroke-linejoin="miter"/>
<path d="M1167.76 364L1175.36 371.6L1167.76 379.2L1160.16 371.6Z" fill="#fff" stroke="#e48fc5" stroke-width="1.6" stroke-linejoin="miter"/>
<path d="M1233.82 373.19L1241.42 380.79L1233.82 388.39L1226.22 380.79Z" fill="#fff" stroke="#e48fc5" stroke-width="1.6" stroke-linejoin="miter"/>
<path d="M1398.97 34.77L1406.57 42.37L1398.97 49.97L1391.37 42.37Z" fill="#fff" stroke="#e48fc5" stroke-width="1.6" stroke-linejoin="miter"/>
<rect x="1093.8" y="327.45" width="16.4" height="15.6" fill="#fff" stroke="#6e6e6e" stroke-width="2"/>
<rect x="1093.5" y="431.3" width="17" height="16.8" fill="#7b7b7b" stroke="#717171" stroke-width="1.1"/>
<path d="M1102 167.79L1111 185.19L1093 185.19Z" fill="#c65a1e"/>
<line x1="90.6" y1="545.5" x2="127.1" y2="545.5" stroke="#6ebf48" stroke-width="1.7"/>
<path d="M108.45 539.1L114.85 545.5L108.45 551.9L102.05 545.5Z" fill="#fff" stroke="#6ebf48" stroke-width="1.4" stroke-linejoin="miter"/>
<text x="165.35" y="552.2" text-anchor="middle" class="t">Control</text>
<line x1="213.3" y1="545.5" x2="250.3" y2="545.5" stroke="#678ed2" stroke-width="1.7"/>
<path d="M231.4 539.1L237.8 545.5L231.4 551.9L225 545.5Z" fill="#fff" stroke="#678ed2" stroke-width="1.4" stroke-linejoin="miter"/>
<text x="283.4" y="552.2" text-anchor="middle" class="t">1.80%</text>
<line x1="324.9" y1="545.5" x2="361.9" y2="545.5" stroke="#7140a4" stroke-width="1.7"/>
<path d="M343 539.1L349.4 545.5L343 551.9L336.6 545.5Z" fill="#fff" stroke="#7140a4" stroke-width="1.4" stroke-linejoin="miter"/>
<text x="394.3" y="552.2" text-anchor="middle" class="t">3.60%</text>
<line x1="437.3" y1="545.5" x2="473.8" y2="545.5" stroke="#ec2a30" stroke-width="1.7"/>
<path d="M455.15 539.1L461.55 545.5L455.15 551.9L448.75 545.5Z" fill="#fff" stroke="#ec2a30" stroke-width="1.4" stroke-linejoin="miter"/>
<text x="506.5" y="552.2" text-anchor="middle" class="t">5.50%</text>
<line x1="548.7" y1="545.5" x2="585.9" y2="545.5" stroke="#1b5ab6" stroke-width="1.7"/>
<path d="M566.9 539.1L573.3 545.5L566.9 551.9L560.5 545.5Z" fill="#fff" stroke="#1b5ab6" stroke-width="1.4" stroke-linejoin="miter"/>
<text x="618.3" y="552.2" text-anchor="middle" class="t">7.30%</text>
<line x1="676.4" y1="545.5" x2="714" y2="545.5" stroke="#fcb215" stroke-width="1.7"/>
<path d="M694.8 539.1L701.2 545.5L694.8 551.9L688.4 545.5Z" fill="#fff" stroke="#fcb215" stroke-width="1.4" stroke-linejoin="miter"/>
<text x="745.85" y="552.2" text-anchor="middle" class="t">9.10%</text>
<line x1="788.4" y1="545.5" x2="825.8" y2="545.5" stroke="#1c9d47" stroke-width="1.7"/>
<path d="M806.7 539.1L813.1 545.5L806.7 551.9L800.3 545.5Z" fill="#fff" stroke="#1c9d47" stroke-width="1.4" stroke-linejoin="miter"/>
<text x="864" y="552.2" text-anchor="middle" class="t">10.90%</text>
<line x1="911.8" y1="545.5" x2="949.2" y2="545.5" stroke="#e48fc5" stroke-width="1.7"/>
<path d="M930.1 539.1L936.5 545.5L930.1 551.9L923.7 545.5Z" fill="#fff" stroke="#e48fc5" stroke-width="1.4" stroke-linejoin="miter"/>
<text x="987.45" y="552.2" text-anchor="middle" class="t">14.50%</text>
<rect x="1047" y="539.2" width="13.2" height="13" fill="#fff" stroke="#7f7f7f" stroke-width="1.6"/>
<text x="1110.4" y="552.2" text-anchor="middle" class="t">Surface</text>
<rect x="1168.5" y="538.5" width="14.7" height="14.5" fill="#7f7f7f"/>
<text x="1221.7" y="552.2" text-anchor="middle" class="t">Fluid</text>
<path d="M1277.6 538L1285.4 553.5L1269.8 553.5Z" fill="#c65a1e"/>
<text x="1327.7" y="552.2" text-anchor="middle" class="t" font-style="italic">In situ</text>
</svg>
</body></html>
